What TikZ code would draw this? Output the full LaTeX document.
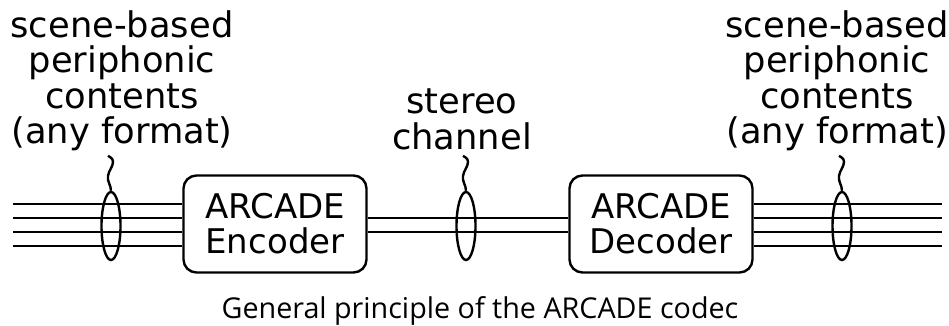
\documentclass[tikz,border=0pt]{standalone}
\usepackage{fontspec}
\setmainfont{DejaVu Sans}
\newfontfamily\capfont{Open Sans}
\usetikzlibrary{shapes.geometric}
\tikzset{
  wire/.style={line width=2.4pt},
  codecbox/.style={draw, line width=2.4pt, rounded corners=13pt, minimum width=183pt, minimum height=97pt, inner sep=0pt, align=center, font=\fontsize{34}{35}\selectfont},
  bundle/.style={draw, ellipse, line width=2.4pt, minimum width=19pt, minimum height=68pt, inner sep=0pt},
  lbl/.style={align=center, inner sep=0pt, anchor=north, font=\fontsize{35.3}{35.5}\selectfont},
}
\newcommand\squig[1]{\draw[wire] (#1.north) .. controls +(0,-6) and +(-1,6) .. ++(-3,-15) .. controls +(1,-6) and +(0,5) .. ++(5,-14) .. controls +(0,-4) and +(1,1) .. ++(-5,-6);}
\begin{document}
\begin{tikzpicture}[x=1pt,y=-1pt]
\useasboundingbox (0,0) rectangle (949,326);
\node[codecbox] (enc) at (275,224) {ARCADE\\Encoder};
\node[codecbox] (dec) at (661,224) {ARCADE\\Decoder};
% outer wires
\foreach \y [count=\i] in {204,218,232,246} {
  \coordinate (la\i) at (13,\y);
  \coordinate (ra\i) at (942,\y);
  \draw[wire] (la\i) -- (enc.west |- la\i);
  \draw[wire] (dec.east |- ra\i) -- (ra\i);
}
\coordinate (m1) at (0,218);
\coordinate (m2) at (0,232);
\draw[wire] (enc.east |- m1) -- (dec.west |- m1);
\draw[wire] (enc.east |- m2) -- (dec.west |- m2);
% bundles
\node[bundle] (e1) at (111,226) {};
\node[bundle] (e2) at (466,226) {};
\node[bundle] (e3) at (842,226) {};
\squig{e1}
\squig{e2}
\squig{e3}
% labels
\node[lbl] (tl) at (122,10) {scene-based\\periphonic\\contents\\(any format)};
\node[lbl] (tm) at (462,89) {stereo\\channel};
\node[lbl] (tr) at (837,10) {scene-based\\periphonic\\contents\\(any format)};
\node[font=\capfont\fontsize{28.7}{30}\selectfont, anchor=base] (cap) at (480,318) {General principle of the ARCADE codec};
\end{tikzpicture}
\end{document}
